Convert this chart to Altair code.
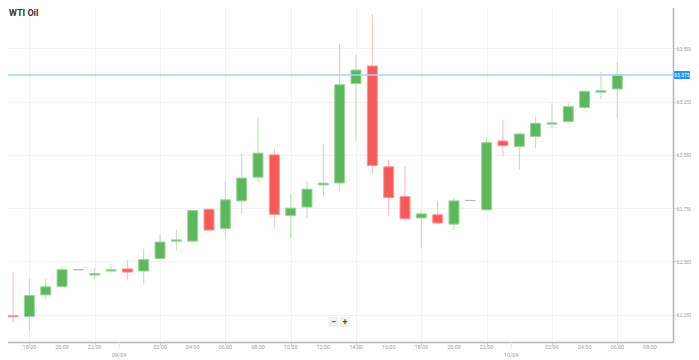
import altair as alt
import pandas as pd

# hours relative to 09/09 00:00
hours = list(range(-8, 31))
opens = [62.457, 62.246, 62.242, 62.343, 62.382, 62.461, 62.436, 62.455, 62.465, 62.455,
         62.514, 62.595, 62.595, 62.745, 62.654, 62.784, 62.895, 63.000, 62.715, 62.755,
         62.859, 62.868, 63.334, 63.417, 62.944, 62.804, 62.704, 62.719, 62.675, 62.786,
         62.742, 63.065, 63.039, 63.086, 63.144, 63.156, 63.222, 63.294, 63.309]
highs = [62.470, 62.448, 62.418, 62.418, 62.479, 62.461, 62.470, 62.489, 62.508, 62.559,
         62.629, 62.648, 62.739, 62.745, 62.875, 63.008, 63.179, 63.031, 62.820, 62.878,
         63.051, 63.520, 63.469, 63.659, 62.976, 62.945, 62.739, 62.784, 62.797, 62.786,
         63.083, 63.164, 63.098, 63.179, 63.242, 63.242, 63.298, 63.389, 63.434]
lows = [62.230, 62.211, 62.175, 62.320, 62.382, 62.461, 62.415, 62.445, 62.411, 62.392,
        62.514, 62.551, 62.595, 62.647, 62.617, 62.722, 62.870, 62.659, 62.612, 62.703,
        62.804, 62.832, 63.062, 62.914, 62.711, 62.692, 62.562, 62.680, 62.648, 62.786,
        62.742, 62.992, 62.929, 63.031, 63.125, 63.156, 63.214, 63.261, 63.172]
closes = [62.246, 62.240, 62.340, 62.381, 62.461, 62.461, 62.443, 62.461, 62.450, 62.509,
          62.591, 62.601, 62.739, 62.647, 62.789, 62.891, 63.008, 62.720, 62.750, 62.839,
          62.867, 63.329, 63.398, 62.950, 62.800, 62.700, 62.723, 62.680, 62.784, 62.786,
          63.057, 63.043, 63.098, 63.148, 63.150, 63.226, 63.298, 63.301, 63.375]

last_price = [63.375]
last_label = ["63.375"]
y_ticks = [62.25, 62.5, 62.75, 63.0, 63.25, 63.5]
time_ticks = [-6, -4, -2, 2, 4, 6, 8, 10, 12, 14, 16, 18, 20, 22, 26, 28, 30, 32]
time_labels = ["18:00", "20:00", "22:00", "02:00", "04:00", "06:00", "08:00", "10:00",
               "12:00", "14:00", "16:00", "18:00", "20:00", "22:00", "02:00", "04:00",
               "06:00", "08:00"]
date_ticks = [-0.5, 23.5]
date_labels = ["09/09", "10/09"]
title_text = "WTI Oil"
buttons = ["\u2212", "+"]

df = pd.DataFrame({"t": hours, "open": opens, "high": highs, "low": lows, "close": closes})
df["dir"] = ["up" if c > o else ("down" if c < o else "flat") for o, c in zip(opens, closes)]
df["lo"] = df[["open", "close"]].min(axis=1)
df["hi"] = df[["open", "close"]].max(axis=1)

W, H = 673, 340
x_dom = [-7.8, -7.8 + W / 16.33]
y_dom = [62.122, 63.717]

x_scale = alt.Scale(domain=x_dom, nice=False, zero=False, padding=0)
x_axis = alt.Axis(
    values=sorted(time_ticks + date_ticks), labels=False, title=None, grid=True,
    gridColor="#f3f3f3", domainColor="#b5b5b5", domainWidth=1.5,
    tickColor="#cfcfcf", tickSize=3,
)
y_scale = alt.Scale(domain=y_dom, nice=False, zero=False, padding=0)
y_axis = alt.Axis(
    orient="right", values=y_ticks, format=".3f", title=None, grid=True,
    gridColor="#f3f3f3", domainColor="#b5b5b5", domainWidth=1.5, tickColor="#cfcfcf",
    tickSize=2, labelFontSize=5.2, labelColor="#a0a0a0", labelFont="Roboto", labelPadding=1,
)

base = alt.Chart(df)

wicks = base.mark_rule(strokeWidth=1, clip=True).encode(
    x=alt.X("t:Q", scale=x_scale, axis=x_axis),
    y=alt.Y("low:Q", scale=y_scale, axis=y_axis),
    y2="high:Q",
    color=alt.Color("dir:N", scale=alt.Scale(domain=["up", "down", "flat"],
                    range=["#b9e0b8", "#fbb9b9", "#cfcfcf"]), legend=None),
)

bodies = base.mark_bar(size=10, strokeWidth=1, clip=True).encode(
    x=alt.X("t:Q", scale=x_scale),
    y=alt.Y("lo:Q", scale=y_scale),
    y2="hi:Q",
    fill=alt.Fill("dir:N", scale=alt.Scale(domain=["up", "down", "flat"],
                  range=["#5cb85c", "#f75959", "#b8b8b8"]), legend=None),
    stroke=alt.Stroke("dir:N", scale=alt.Scale(domain=["up", "down", "flat"],
                      range=["#9ed49c", "#fb9a9a", "#b8b8b8"]), legend=None),
)

tdf = pd.DataFrame({"t": time_ticks, "lab": time_labels})
time_text = alt.Chart(tdf).mark_text(
    fontSize=5.5, font="Roboto", color="#a0a0a0", baseline="middle", align="center"
).encode(x=alt.X("t:Q", scale=x_scale), y=alt.value(H + 5), text="lab:N")

ddf = pd.DataFrame({"t": date_ticks, "lab": date_labels})
date_text = alt.Chart(ddf).mark_text(
    fontSize=5.5, font="Roboto", color="#a0a0a0", baseline="middle", align="center"
).encode(x=alt.X("t:Q", scale=x_scale), y=alt.value(H + 12.5), text="lab:N")
date_tick = alt.Chart(ddf).mark_rule(color="#d5d5d5", strokeDash=[1, 1]).encode(
    x=alt.X("t:Q", scale=x_scale), y=alt.value(H), y2=alt.value(H + 8)
)

price_df = pd.DataFrame({"p": last_price, "lab": last_label})
price_line = alt.Chart(price_df).mark_rule(color="#a9d6f7", strokeWidth=1.5).encode(
    y=alt.Y("p:Q", scale=y_scale)
)
price_box = alt.Chart(price_df).mark_rect(height=8, color="#2196f3", cornerRadius=1).encode(
    y=alt.Y("p:Q", scale=y_scale), x=alt.value(W + 1), x2=alt.value(W + 17)
)
price_text = alt.Chart(price_df).mark_text(
    color="white", fontSize=5, font="Roboto", align="center", baseline="middle"
).encode(y=alt.Y("p:Q", scale=y_scale), x=alt.value(W + 9), text="lab:N")

title = alt.Chart(pd.DataFrame({"s": [title_text]})).mark_text(
    fontSize=9, fontWeight="bold", font="Roboto", color="#333333", align="left",
    baseline="middle"
).encode(x=alt.value(9), y=alt.value(11), text="s:N")

btn_layers = []
for i, s in enumerate(buttons):
    cx = 333.5 + 11.5 * i
    bdf = pd.DataFrame({"s": [s]})
    btn_layers.append(
        alt.Chart(bdf).mark_rect(color="#f1f1f1", width=10, height=10).encode(
            x=alt.value(cx), y=alt.value(320)
        )
    )
    btn_layers.append(
        alt.Chart(bdf).mark_text(
            fontSize=9, font="Roboto", fontWeight="bold", color="#555555",
            baseline="middle", align="center"
        ).encode(x=alt.value(cx), y=alt.value(320), text="s:N")
    )

chart = alt.layer(
    wicks, bodies, time_text, date_text, date_tick, price_line, price_box, price_text,
    title, *btn_layers
).resolve_scale(
    color="independent", fill="independent", stroke="independent"
).properties(
    width=W, height=H,
    autosize=alt.AutoSizeParams(type="none"),
    padding={"left": -8, "top": -6, "right": 18, "bottom": 16},
    background="white",
).configure_view(stroke="#e8e8e8", strokeWidth=1)

chart.save("out.html", embed_options={"renderer": "svg", "actions": False})
